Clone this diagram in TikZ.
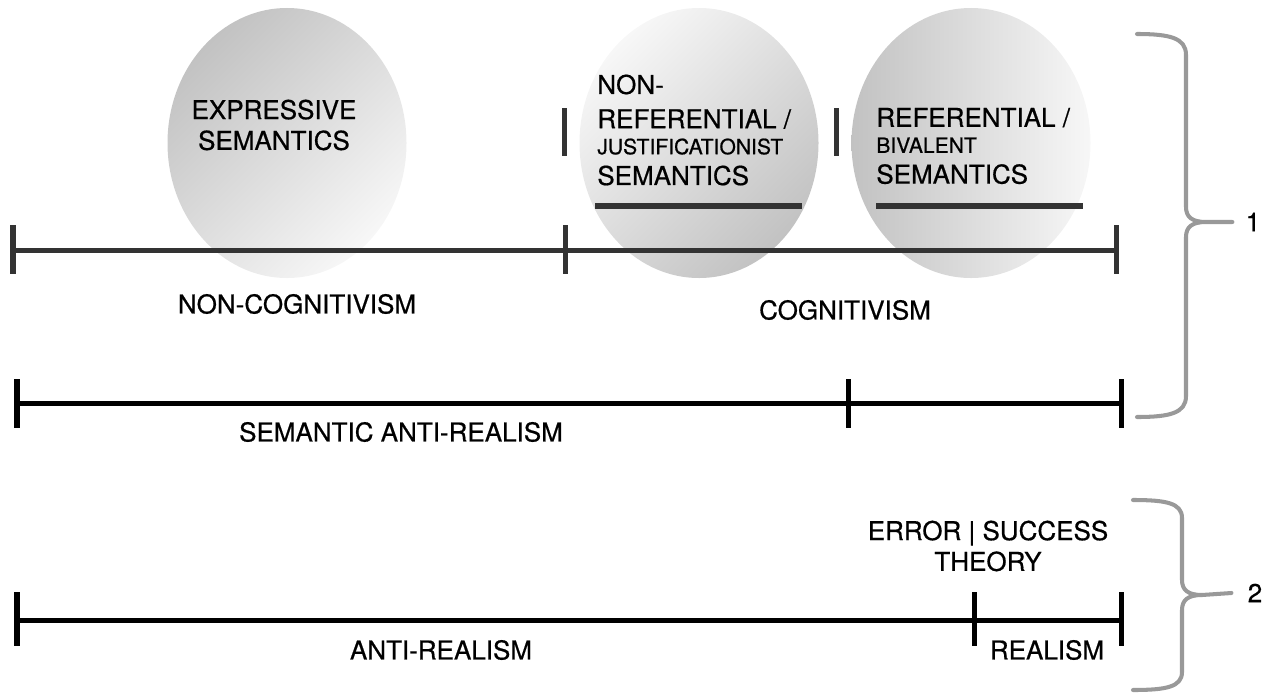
\documentclass[tikz,border=0pt]{standalone}
\usepackage{fontspec}
\setmainfont{TeX Gyre Heros}[FakeBold=0.6]
\usepackage{tikz}
\usetikzlibrary{shapes.geometric,calc}
\definecolor{rulegray}{RGB}{51,51,51}
\definecolor{bracegray}{RGB}{153,153,153}
\definecolor{bubdark}{RGB}{194,194,194}
\definecolor{bublight}{RGB}{247,247,247}
\newcommand{\minitxt}{\fontsize{12}{14}\selectfont}

\begin{document}
\begin{tikzpicture}[x=0.2mm, y=-0.2mm,
    bubble/.style={ellipse, inner sep=0pt, minimum width=4.78cm, minimum height=5.4cm},
    lbl/.style={inner sep=0pt, font=\fontsize{14.8}{17.5}\selectfont},
    toprule/.style={rulegray, line width=2.85pt},
    blkrule/.style={black, line width=2.85pt},
    brc/.style={bracegray, line width=2.3pt, line cap=round, line join=round}
]
    \useasboundingbox (0,0) rectangle (1273,692);

    % semantics bubbles
    \node[bubble, top color=bubdark, bottom color=bublight, shading angle=45] (expr) at (287,143) {};
    \node[bubble, top color=bublight, bottom color=bubdark, shading angle=45] (nref) at (699,143) {};
    \node[bubble, left color=bubdark, right color=bublight] (ref) at (971,143) {};

    \node[lbl, align=center] (exprtxt) at (274,125) {EXPRESSIVE\\SEMANTICS};
    \node[lbl, align=left, anchor=west] (nreftxt) at (597,130)
        {NON-\\[2pt]REFERENTIAL /\\[-2.7pt]{\minitxt JUSTIFICATIONIST}\\SEMANTICS};
    \node[lbl, align=left, anchor=west] (reftxt) at (876,146)
        {REFERENTIAL /\\[-2.7pt]{\minitxt BIVALENT}\\SEMANTICS};

    \draw[toprule] (564,108) -- (564,156);
    \draw[toprule] (836,108) -- (836,156);
    \draw[toprule] (595,206) -- (802,206);
    \draw[toprule] (876,206) -- (1083,206);

    % cognitivism scale
    \coordinate (t0) at (13,250);
    \coordinate (t1) at (565,250);
    \coordinate (t2) at (1116,250);
    \draw[toprule] (t0) -- (t1);
    \draw[toprule] (t1) -- (t2);
    \foreach \c in {t0,t1,t2}
        \draw[toprule] ($(\c)+(0,-25)$) -- ($(\c)+(0,24)$);
    \node[lbl] (noncog) at (297,304) {NON-COGNITIVISM};
    \node[lbl] (cog) at (845,310) {COGNITIVISM};

    % semantic realism scale
    \coordinate (m0) at (17,403);
    \coordinate (m1) at (848,403);
    \coordinate (m2) at (1121,403);
    \draw[blkrule] (m0) -- (m1);
    \draw[blkrule] (m1) -- (m2);
    \foreach \c in {m0,m1,m2}
        \draw[blkrule] ($(\c)+(0,-24)$) -- ($(\c)+(0,25)$);
    \node[lbl] (semanti) at (401,432) {SEMANTIC ANTI-REALISM};

    % metaphysical realism scale
    \coordinate (b0) at (17,620);
    \coordinate (b1) at (974,620);
    \coordinate (b2) at (1121,620);
    \draw[blkrule] (b0) -- (b1);
    \draw[blkrule] (b1) -- (b2);
    \foreach \c in {b0,b1,b2}
        \draw[blkrule] ($(\c)+(0,-28)$) -- ($(\c)+(0,26)$);
    \node[lbl] (antireal) at (441,650) {ANTI-REALISM};
    \node[lbl] (real) at (1047,650) {REALISM};
    \node[lbl, align=center] (errsucc) at (988,546) {ERROR | SUCCESS\\THEORY};

    % braces
    \node[lbl] (one) at (1253,222) {1};
    \coordinate (br1top) at (1137,34);
    \coordinate (br1bot) at (1137,417);
    \draw[brc] (br1top) .. controls (1170,34) and (1186,38) .. (1186,55)
        -- (1186,207) .. controls (1186,217) and (1192,222) .. (1206,222)
        -- ($(one.west)+(-13,0)$) -- (1206,222)
        .. controls (1192,222) and (1186,227) .. (1186,237)
        -- (1186,396) .. controls (1186,413) and (1170,417) .. (br1bot);

    \node[lbl] (two) at (1255,593) {2};
    \coordinate (br2top) at (1133,500);
    \coordinate (br2bot) at (1133,690);
    \draw[brc] (br2top) .. controls (1166,500) and (1182,503) .. (1182,518)
        -- (1182,580) .. controls (1182,590) and (1188,595) .. (1202,595)
        -- ($(two.west)+(-16,0)$) -- (1202,595)
        .. controls (1188,595) and (1182,600) .. (1182,610)
        -- (1182,672) .. controls (1182,687) and (1166,690) .. (br2bot);
\end{tikzpicture}
\end{document}
